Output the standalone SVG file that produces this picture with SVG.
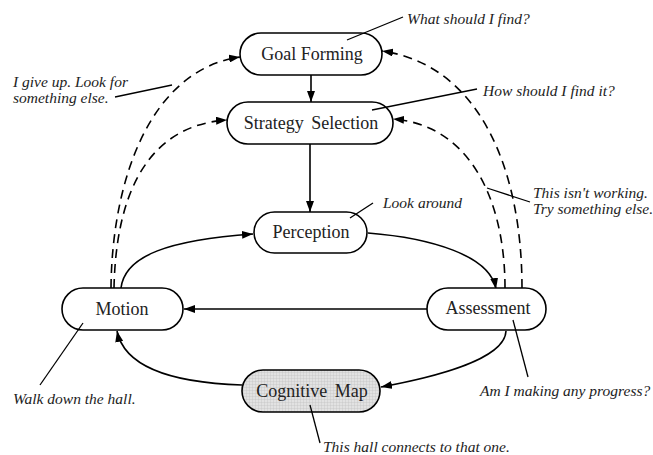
<svg xmlns="http://www.w3.org/2000/svg" width="653" height="455" viewBox="0 0 653 455">
<style>
.node{fill:#fff;stroke:#000;stroke-width:1.6}
.map{fill:url(#grid);stroke:#000;stroke-width:1.6}
.lbl{font-family:"Liberation Serif","Times New Roman",serif;font-size:18px;fill:#222;text-anchor:middle}
.note{font-family:"Liberation Serif","Times New Roman",serif;font-size:15.5px;font-style:italic;fill:#222}
.c{fill:none;stroke:#000;stroke-width:1.6;marker-end:url(#ah)}
.d{fill:none;stroke:#000;stroke-width:1.6;stroke-dasharray:9 6;marker-end:url(#ah)}
.lead{fill:none;stroke:#000;stroke-width:1.3}
</style>
<defs>
<marker id="ah" markerUnits="userSpaceOnUse" markerWidth="12" markerHeight="8" refX="11" refY="4" orient="auto">
<path d="M0,0 L11,4 L0,8 z" fill="#000"/>
</marker>
<pattern id="grid" width="3" height="3" patternUnits="userSpaceOnUse">
<rect width="3" height="3" fill="#e2e2e2"/>
<path d="M0,0 H3 M0,0 V3" stroke="#c4c4c4" stroke-width="0.8"/>
</pattern>
</defs>
<g id="connectors">
<path class="c" d="M311,75 L311,102"/>
<path class="c" d="M310,144 L310,212"/>
<path class="c" d="M121,288 C125,255 170,240 253,234"/>
<path class="c" d="M368,233 C430,238 490,255 496,289"/>
<path class="c" d="M427,309 L184,309"/>
<path class="c" d="M506,331 C505,360 430,378 381,387"/>
<path class="c" d="M242,385 C180,383 125,370 117,331"/>
<path class="d" d="M111,288 C112,180 150,70 240,57"/>
<path class="d" d="M114,288 C116,190 150,125 227,120"/>
<path class="d" d="M505,288 C505,200 470,125 393,119"/>
<path class="d" d="M522,288 C522,170 480,65 382,51"/>
</g>
<g id="goal-forming">
<rect class="node" x="240" y="33" width="142" height="42" rx="21"/>
<text class="lbl" x="312" y="60">Goal Forming</text>
</g>
<g id="strategy-selection">
<rect class="node" x="227" y="102" width="166" height="42" rx="21"/>
<text class="lbl" x="311" y="129" word-spacing="3">Strategy Selection</text>
</g>
<g id="perception">
<rect class="node" x="254" y="212" width="113" height="41" rx="20.5"/>
<text class="lbl" x="311" y="238">Perception</text>
</g>
<g id="motion">
<rect class="node" x="62" y="288" width="121" height="42" rx="21"/>
<text class="lbl" x="122" y="315">Motion</text>
</g>
<g id="assessment">
<rect class="node" x="427" y="288" width="119" height="42" rx="21"/>
<text class="lbl" x="488" y="314">Assessment</text>
</g>
<g id="cognitive-map">
<rect class="map" x="242" y="370" width="138" height="42" rx="21"/>
<text class="lbl" x="312" y="397" word-spacing="3">Cognitive Map</text>
</g>
<g id="annotations">
<path class="lead" d="M347,40 L403,17"/>
<text class="note" x="407" y="24">What should I find?</text>
<path class="lead" d="M372,110 L477,89"/>
<text class="note" x="483" y="96">How should I find it?</text>
<path class="lead" d="M350,218 L373,203"/>
<text class="note" x="383" y="208">Look around</text>
<path class="lead" d="M487,188 L530,202"/>
<text class="note" x="533" y="198">This isn't working.</text>
<text class="note" x="533" y="214">Try something else.</text>
<path class="lead" d="M115,97 L172,85"/>
<text class="note" x="13" y="87">I give up. Look for</text>
<text class="note" x="13" y="103">something else.</text>
<path class="lead" d="M40,385 L83,323"/>
<text class="note" x="13" y="404">Walk down the hall.</text>
<path class="lead" d="M528,377 L513,320"/>
<text class="note" x="480" y="396">Am I making any progress?</text>
<path class="lead" d="M310,405 L320,443"/>
<text class="note" x="323" y="452">This hall connects to that one.</text>
</g>
</svg>
